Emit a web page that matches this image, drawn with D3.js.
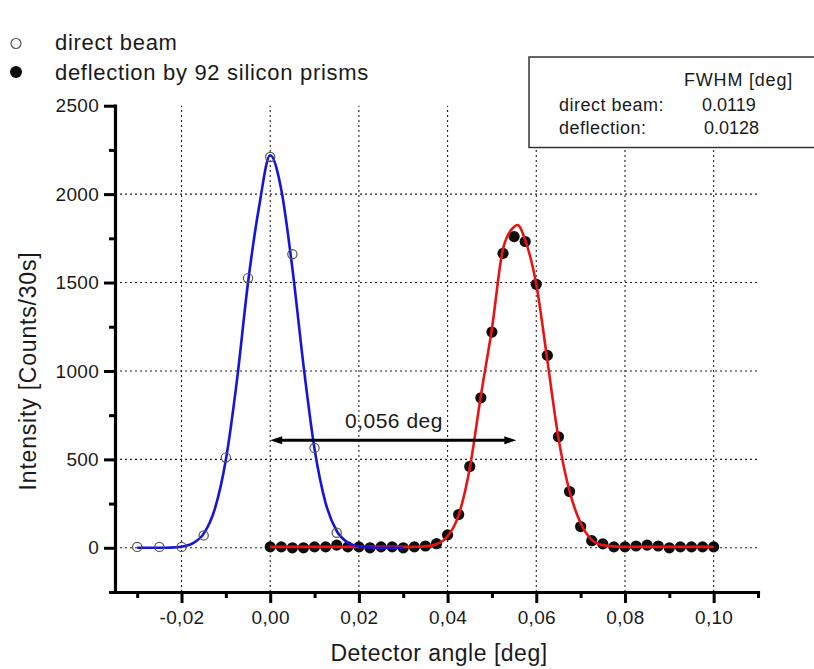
<!DOCTYPE html>
<html>
<head>
<meta charset="utf-8">
<script src="https://cdn.jsdelivr.net/npm/d3@7"></script>
<style>
  body { margin: 0; background: #fff; }
  text { font-family: "Liberation Sans", Arial, sans-serif; fill: #1a1a1a; }
</style>
</head>
<body>
<div id="chart"></div>
<script>
// direct beam, open circles
const directX = [-0.03, -0.025, -0.02, -0.015, -0.01, -0.005, 0, 0.005, 0.01, 0.015];
const directY = [5, 5, 5, 70, 510, 1525, 2210, 1660, 565, 85];

// deflection by 92 prisms, filled circles
const deflX = [0, 0.0025, 0.005, 0.0075, 0.01, 0.0125, 0.015, 0.0175, 0.02, 0.0225,
  0.025, 0.0275, 0.03, 0.0325, 0.035, 0.0375, 0.04, 0.0425, 0.045, 0.0475,
  0.05, 0.0525, 0.055, 0.0575, 0.06, 0.0625, 0.065, 0.0675, 0.07, 0.0725,
  0.075, 0.0775, 0.08, 0.0825, 0.085, 0.0875, 0.09, 0.0925, 0.095, 0.0975, 0.1];
const deflY = [5, 5, 0, 0, 5, 5, 15, 5, 5, 0,
  5, 5, 0, 5, 10, 23, 73, 188, 460, 848,
  1220, 1665, 1760, 1732, 1490, 1088, 628, 318, 120, 40,
  22, 5, 5, 10, 15, 10, 0, 5, 5, 5, 5];

// fitted curves
const blueFitX = [-0.03, -0.025, -0.0225, -0.02, -0.0175, -0.015, -0.0125, -0.01, -0.0075, -0.005,
  -0.0025, 0, 0.0025, 0.005, 0.0075, 0.01, 0.0125, 0.015, 0.0175, 0.02, 0.0225, 0.025, 0.03];
const blueFitY = [0, 0, 1, 6, 25, 80, 219, 498, 947, 1500,
  1930, 2220, 2025, 1580, 1033, 559, 253, 95, 30, 8, 2, 0, 0];

const redFitX = [0, 0.005, 0.01, 0.015, 0.02, 0.025, 0.03, 0.0325, 0.035, 0.0375,
  0.04, 0.0425, 0.045, 0.0475, 0.05, 0.0525, 0.055, 0.0558, 0.0575, 0.06,
  0.0625, 0.065, 0.0675, 0.07, 0.0725, 0.075, 0.0775, 0.08, 0.085, 0.09, 0.095, 0.1];
const redFitY = [5, 5, 5, 5, 5, 5, 5, 6, 8, 20,
  65, 185, 450, 860, 1240, 1690, 1815, 1825, 1740, 1490,
  1060, 620, 320, 140, 45, 15, 8, 5, 5, 5, 5, 5];

// axes
const xTicks = [-0.02, 0, 0.02, 0.04, 0.06, 0.08, 0.10];
const xMinor = [-0.03, -0.01, 0.01, 0.03, 0.05, 0.07, 0.09, 0.11];
const yTicks = [0, 500, 1000, 1500, 2000, 2500];
const yMinor = [-250, 250, 750, 1250, 1750, 2250];
const xGrid = [-0.02, 0, 0.02, 0.04, 0.06, 0.08, 0.10];
const yGrid = [0, 500, 1000, 1500, 2000];

// annotation
const shiftX = [0, 0.0555];
const shiftY = 608;
const shiftLabel = "0,056 deg";
const fwhmRows = [["direct beam:", "0.0119"], ["deflection:", "0.0128"]];

const W = 814, H = 669;
const svg = d3.select("#chart").append("svg").attr("width", W).attr("height", H);

const x = d3.scaleLinear().domain([-0.035, 0.11]).range([115, 758]);
const y = d3.scaleLinear().domain([-250, 2500]).range([592, 105.7]);

// grid
svg.append("g")
  .selectAll("line")
  .data(xGrid)
  .join("line")
  .attr("x1", (d) => x(d)).attr("x2", (d) => x(d))
  .attr("y1", y(-250)).attr("y2", y(2500))
  .attr("stroke", "#222").attr("stroke-width", 1.1).attr("stroke-dasharray", "2,3");

svg.append("g")
  .selectAll("line")
  .data(yGrid)
  .join("line")
  .attr("x1", x(-0.035)).attr("x2", x(0.11))
  .attr("y1", (d) => y(d)).attr("y2", (d) => y(d))
  .attr("stroke", "#222").attr("stroke-width", 1.1).attr("stroke-dasharray", "2,3");

// FWHM box (white, hides grid beneath)
const box = svg.append("g");
box.append("rect")
  .attr("x", 529).attr("y", 57).attr("width", 300).attr("height", 90.5)
  .attr("fill", "#fff").attr("stroke", "#333").attr("stroke-width", 1.5);
box.append("text").attr("x", 684).attr("y", 86)
  .style("font-size", "18px").style("letter-spacing", "0.8px")
  .text("FWHM [deg]");
box.selectAll("text.row")
  .data(fwhmRows)
  .join("text")
  .attr("class", "row")
  .attr("x", 559).attr("y", (d, i) => 111 + i * 22.5)
  .style("font-size", "18px").style("letter-spacing", "0.5px")
  .text((d) => d[0]);
box.selectAll("text.val")
  .data(fwhmRows)
  .join("text")
  .attr("class", "val")
  .attr("x", (d, i) => 702 + i * 2).attr("y", (d, i) => 111 + i * 22.5)
  .style("font-size", "18px")
  .text((d) => d[1]);

// axes
const fmt = (d) => d.toFixed(2).replace(".", ",");

svg.append("g")
  .attr("transform", `translate(0,${y(-250)})`)
  .call(d3.axisBottom(x).tickValues(xTicks).tickSize(11).tickSizeOuter(0).tickPadding(8).tickFormat(fmt));
svg.append("g")
  .attr("transform", `translate(0,${y(-250)})`)
  .call(d3.axisBottom(x).tickValues(xMinor).tickSize(6).tickSizeOuter(0).tickFormat(""))
  .call((g) => g.select(".domain").remove());

svg.append("g")
  .attr("transform", `translate(${x(-0.035)},0)`)
  .call(d3.axisLeft(y).tickValues(yTicks).tickSize(11).tickSizeOuter(0).tickPadding(5).tickFormat(d3.format("d")));
svg.append("g")
  .attr("transform", `translate(${x(-0.035)},0)`)
  .call(d3.axisLeft(y).tickValues(yMinor).tickSize(6).tickSizeOuter(0).tickFormat(""))
  .call((g) => g.select(".domain").remove());

svg.selectAll(".domain").attr("stroke", "#000").attr("stroke-width", 3.2).attr("stroke-linecap", "square");
svg.selectAll(".tick line").attr("stroke", "#000").attr("stroke-width", 3);
svg.selectAll(".tick text")
  .style("font-size", "19px").style("letter-spacing", "0.3px")
  .style("font-family", "'Liberation Sans', Arial, sans-serif").attr("fill", "#1a1a1a");

svg.append("text")
  .attr("x", 439).attr("y", 661)
  .style("text-anchor", "middle").style("font-size", "23px").style("letter-spacing", "0.5px")
  .text("Detector angle [deg]");

svg.append("text")
  .attr("transform", "rotate(-90)")
  .attr("x", -371).attr("y", 36)
  .style("text-anchor", "middle").style("font-size", "23px").style("letter-spacing", "0.8px")
  .text("Intensity [Counts/30s]");

// data
const defl = deflX.map((d, i) => ({ x: d, y: deflY[i] }));
const direct = directX.map((d, i) => ({ x: d, y: directY[i] }));
const blueFit = blueFitX.map((d, i) => ({ x: d, y: blueFitY[i] }));
const redFit = redFitX.map((d, i) => ({ x: d, y: redFitY[i] }));

svg.append("g")
  .selectAll("circle")
  .data(defl)
  .join("circle")
  .attr("cx", (d) => x(d.x)).attr("cy", (d) => y(d.y))
  .attr("r", 5.6).attr("fill", "#0d0d0d");

const line = d3.line().x((d) => x(d.x)).y((d) => y(d.y)).curve(d3.curveMonotoneX);

svg.append("path").datum(redFit)
  .attr("d", line).attr("fill", "none")
  .attr("stroke", "#e81414").attr("stroke-width", 2.6);

svg.append("path").datum(blueFit)
  .attr("d", line).attr("fill", "none")
  .attr("stroke", "#1414dc").attr("stroke-width", 2.6);

svg.append("g")
  .selectAll("circle")
  .data(direct)
  .join("circle")
  .attr("cx", (d) => x(d.x)).attr("cy", (d) => y(d.y))
  .attr("r", 4.6).attr("fill", "none")
  .attr("stroke", "#555").attr("stroke-width", 1.2);

// shift arrow
const ax0 = x(shiftX[0]), ax1 = x(shiftX[1]), ay = y(shiftY);
svg.append("line")
  .attr("x1", ax0 + 6).attr("x2", ax1 - 6).attr("y1", ay).attr("y2", ay)
  .attr("stroke", "#000").attr("stroke-width", 3);
svg.append("path")
  .attr("d", `M${ax0},${ay}L${ax0 + 12},${ay - 4}L${ax0 + 12},${ay + 4}Z`)
  .attr("fill", "#000");
svg.append("path")
  .attr("d", `M${ax1},${ay}L${ax1 - 12},${ay - 4}L${ax1 - 12},${ay + 4}Z`)
  .attr("fill", "#000");
svg.append("text")
  .attr("x", 345).attr("y", 428)
  .style("font-size", "21px").style("letter-spacing", "0.5px")
  .text(shiftLabel);

// legend
const legend = svg.append("g");
legend.append("circle").attr("cx", 16).attr("cy", 43.5).attr("r", 5)
  .attr("fill", "none").attr("stroke", "#555").attr("stroke-width", 1.2);
legend.append("circle").attr("cx", 16).attr("cy", 72).attr("r", 6).attr("fill", "#0d0d0d");
legend.selectAll("text.lg")
  .data(["direct beam", "deflection by 92 silicon prisms"])
  .join("text")
  .attr("class", "lg")
  .attr("x", 55).attr("y", (d, i) => 50 + i * 30)
  .style("font-size", "22px").style("letter-spacing", "0.7px")
  .text((d) => d);
</script>
</body>
</html>
